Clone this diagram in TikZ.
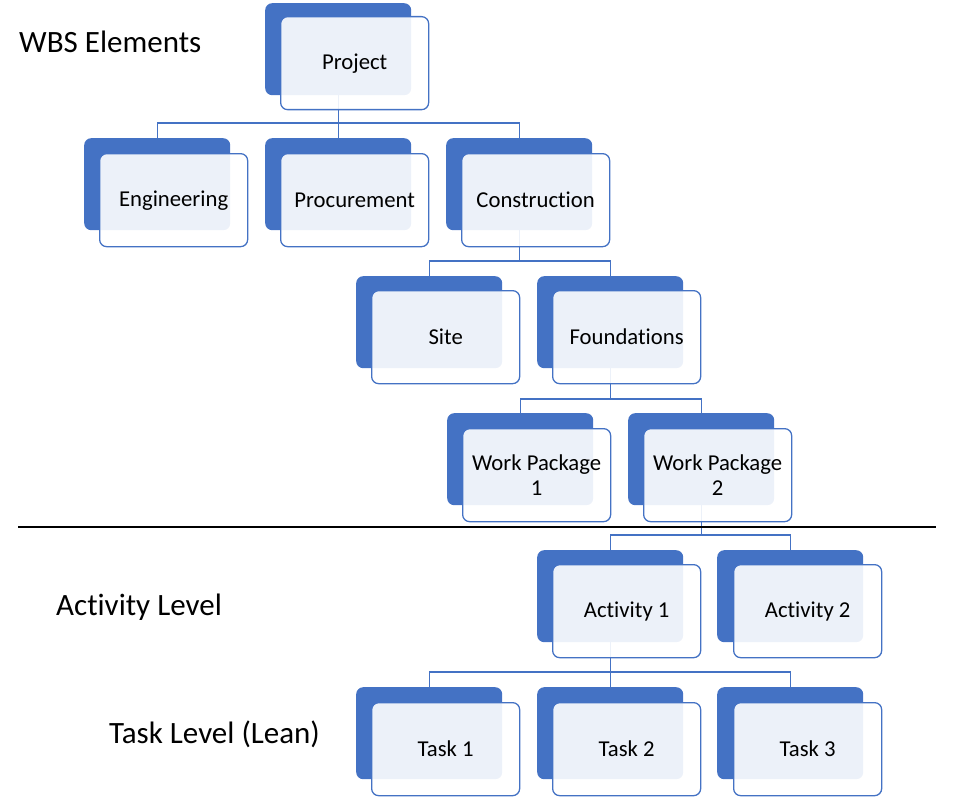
\documentclass[tikz,border=0pt]{standalone}
\usepackage{fontspec}
\setmainfont{Carlito}[Ligatures=NoCommon]
\definecolor{wbsblue}{HTML}{4472C4}
\begin{document}
\begin{tikzpicture}[x=1pt,y=-1pt,
 backbox/.style={draw=none, fill=wbsblue, rounded corners=7pt, minimum width=146pt, minimum height=92pt, anchor=north west, inner sep=0pt},
 frontbox/.style={draw=wbsblue, line width=1.3pt, fill=white, fill opacity=0.9, text opacity=1, rounded corners=7pt, minimum width=148pt, minimum height=93pt, anchor=north west, inner sep=0pt, align=center, font=\fontsize{22.7}{25.5}\selectfont},
 link/.style={draw=wbsblue, line width=1.4pt},
 lvl/.style={anchor=base west, inner sep=0pt, font=\fontsize{31}{36}\selectfont},
 sepline/.style={draw=black, line width=2.3pt}]
\useasboundingbox (0,0) rectangle (958,797);

% back boxes
\node[backbox] (projb) at (265,3) {};
\node[backbox] (engb) at (84,138) {};
\node[backbox] (procb) at (265,138) {};
\node[backbox] (consb) at (446,138) {};
\node[backbox] (siteb) at (356,276) {};
\node[backbox] (foundb) at (537,276) {};
\node[backbox] (wpab) at (447,413) {};
\node[backbox] (wpbb) at (628,413) {};
\node[backbox] (actab) at (537,550) {};
\node[backbox] (actbb) at (717,550) {};
\node[backbox] (taskab) at (356,687) {};
\node[backbox] (taskbb) at (537,687) {};
\node[backbox] (taskcb) at (717,687) {};

% connectors
\foreach \c in {engb,procb,consb}
  \draw[link] (projb.south) |- ([yshift=15pt]\c.north) -- (\c.north);
\foreach \c in {siteb,foundb}
  \draw[link] (consb.south) |- ([yshift=15pt]\c.north) -- (\c.north);
\foreach \c in {wpab,wpbb}
  \draw[link] (foundb.south) |- ([yshift=14pt]\c.north) -- (\c.north);
\foreach \c in {actab,actbb}
  \draw[link] (wpbb.south) |- ([yshift=15pt]\c.north) -- (\c.north);
\foreach \c in {taskab,taskbb,taskcb}
  \draw[link] (actab.south) |- ([yshift=15pt]\c.north) -- (\c.north);

% front boxes
\node[frontbox] (proj) at (280,16) {Project};
\node[frontbox] (eng) at (99,153) {Engineering};
\node[frontbox] (proc) at (280,153) {Procurement};
\node[frontbox] (cons) at (461,153) {Construction};
\node[frontbox] (site) at (371,290) {Site};
\node[frontbox] (found) at (552,290) {Foundations};
\node[frontbox] (wpa) at (462,428) {Work Package\\1};
\node[frontbox] (wpb) at (643,428) {Work Package\\2};
\node[frontbox] (acta) at (552,564) {Activity 1};
\node[frontbox] (actb) at (733,564) {Activity 2};
\node[frontbox] (taska) at (371,702) {Task 1};
\node[frontbox] (taskb) at (552,702) {Task 2};
\node[frontbox] (taskc) at (733,702) {Task 3};

% separator
\coordinate (sepl) at (18,527);
\coordinate (sepr) at (936,527);
\draw[sepline] (sepl) -- (sepr);

% level labels
\node[lvl] (lwbs) at (19,53) {WBS Elements};
\node[lvl] (lact) at (56,615) {Activity Level};
\node[lvl] (ltask) at (109,743) {Task Level (Lean)};
\end{tikzpicture}
\end{document}
